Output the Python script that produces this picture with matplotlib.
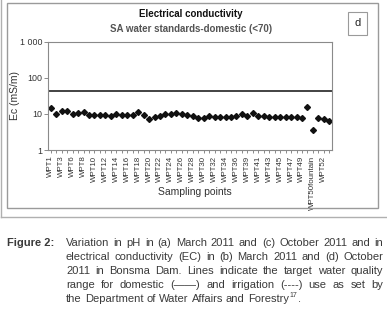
import matplotlib
matplotlib.use("Agg")
import matplotlib.pyplot as plt
from matplotlib.patches import Rectangle
from matplotlib.ticker import FixedLocator

plt.rcParams['font.family'] = ['Liberation Sans', 'DejaVu Sans']

categories = ["WPT1", "WPT2", "WPT3", "WPT5", "WPT6", "WPT7", "WPT8", "WPT9", "WPT10", "WPT11",
              "WPT12", "WPT13", "WPT14", "WPT15", "WPT16", "WPT17", "WPT18", "WPT19", "WPT20", "WPT21",
              "WPT22", "WPT23", "WPT24", "WPT25", "WPT26", "WPT27", "WPT28", "WPT29", "WPT30", "WPT31",
              "WPT32", "WPT33", "WPT34", "WPT35", "WPT36", "WPT37", "WPT39", "WPT40", "WPT41", "WPT42",
              "WPT43", "WPT44", "WPT45", "WPT46", "WPT47", "WPT48", "WPT49", "WPT50", "WPT50fountain", "WPT51",
              "WPT52", "WPT53"]
ec_values = [14.6, 10.0, 12.4, 12.4, 10.0, 10.6, 11.1, 9.2, 9.6, 9.2,
             9.2, 8.8, 10.0, 9.2, 9.6, 9.2, 11.1, 9.6, 7.0, 8.0,
             8.6, 10.2, 10.2, 10.8, 10.2, 9.4, 8.8, 7.8, 7.5, 9.0,
             8.2, 8.0, 8.1, 8.4, 9.0, 10.0, 9.0, 10.4, 9.0, 8.7,
             8.4, 8.1, 8.1, 8.1, 8.1, 8.1, 7.6, 15.9, 3.5, 7.6,
             7.3, 6.5]
domestic_limit = 43
y_ticks = [1, 10, 100, 1000]
y_tick_labels = ["1", "10", "100", "1 000"]

W, H = 387, 318
fig = plt.figure(figsize=(W / 100, H / 100), dpi=100)
fig.patch.set_facecolor("white")

def fx(px):
    return px / W

def fy(py):
    return 1 - py / H

# chart frame
fig.patches.append(Rectangle((fx(7), fy(208)), fx(378) - fx(7), fy(3) - fy(208),
                             transform=fig.transFigure, fill=False, edgecolor="#9a9a9a", lw=1.0))
fig.add_artist(plt.Line2D([fx(1), fx(1)], [fy(217), fy(0)], transform=fig.transFigure, color="#b0b0b0", lw=1.0))
fig.add_artist(plt.Line2D([fx(1), fx(387)], [fy(217), fy(217)], transform=fig.transFigure, color="#b0b0b0", lw=1.0))

# panel letter box
fig.patches.append(Rectangle((fx(348), fy(35)), fx(367) - fx(348), fy(12) - fy(35),
                             transform=fig.transFigure, fill=False, edgecolor="#9a9a9a", lw=0.8))
fig.text(fx(357.5), fy(23.5), "d", ha="center", va="center", fontsize=8, color="#222222")

fig.text(fx(191), fy(14), "Electrical conductivity", ha="center", va="center",
         fontsize=7.0, fontweight="bold", color="#111111")
fig.text(fx(191), fy(29), "SA water standards-domestic (<70)", ha="center", va="center",
         fontsize=7.0, fontweight="bold", color="#555555")

ax = fig.add_axes([fx(48), fy(150), fx(332) - fx(48), fy(41.7) - fy(150)])
x = list(range(len(categories)))
ax.plot(x, ec_values, linestyle="none", marker="D", markersize=3.0, color="#111111")
ax.axhline(domestic_limit, color="#222222", lw=1.2)
ax.set_yscale("log")
ax.set_ylim(1, 1000)
ax.set_xlim(-0.5, len(categories) - 0.5)
ax.yaxis.set_major_locator(FixedLocator(y_ticks))
ax.yaxis.set_minor_locator(FixedLocator([]))
ax.set_yticklabels(y_tick_labels)
ax.tick_params(axis="y", labelsize=6.4, colors="#777777", labelcolor="#333333", length=3, width=0.6, pad=1)

ax.set_xticks(x[::2])
ax.set_xticklabels(categories[::2], rotation=90, fontsize=5.7, color="#333333")
ax.set_xticks(x[1::2], minor=True)
ax.tick_params(axis="x", which="both", colors="#777777", labelcolor="#333333", length=2.5, width=0.6, pad=1.5)
for s in ax.spines.values():
    s.set_color("#8a8a8a")
    s.set_linewidth(0.8)
ax.set_ylabel("Ec (mS/m)", fontsize=7.5, color="#333333")
ax.yaxis.set_label_coords((20 - 48) / 284, 0.5)
fig.text(fx(195), fy(192), "Sampling points", ha="center", va="center", fontsize=7.5, color="#333333")

# caption
cap_color = "#3a3a3a"
cap_size = 8.0
fig.text(fx(7), fy(243), "Figure 2:", ha="left", va="center", fontsize=cap_size, fontweight="bold", color=cap_color)
caption_lines = [
    "Variation in pH in (a) March 2011 and (c) October 2011 and in",
    "electrical conductivity (EC) in (b) March 2011 and (d) October",
    "2011 in Bonsma Dam. Lines indicate the target water quality",
    "range for domestic (\u2014\u2014) and irrigation (----) use as set by",
    "the Department of Water Affairs and Forestry",
]
renderer = fig.canvas.get_renderer()
left_px, right_px = 66, 383
for i, line in enumerate(caption_lines):
    ypos = fy(243 + 14.1 * i)
    words = line.split(" ")
    texts = [fig.text(0, ypos, w, ha="left", va="center", fontsize=cap_size, color=cap_color) for w in words]
    widths = [t.get_window_extent(renderer).width for t in texts]
    if i < len(caption_lines) - 1:
        gap = (right_px - left_px - sum(widths)) / (len(words) - 1)
    else:
        sp = fig.text(0, 0, "a a", fontsize=cap_size)
        sp2 = fig.text(0, 0, "aa", fontsize=cap_size)
        gap = sp.get_window_extent(renderer).width - sp2.get_window_extent(renderer).width
        sp.remove()
        sp2.remove()
    cur = left_px
    for t, w in zip(texts, widths):
        t.set_x(fx(cur))
        cur += w + gap
    if i == len(caption_lines) - 1:
        end = cur - gap
        sup = fig.text(fx(end + 0.5), ypos + 3.5 / H, "17", ha="left", va="center", fontsize=5, color=cap_color)
        sw = sup.get_window_extent(renderer).width
        fig.text(fx(end + 1 + sw), ypos, ".", ha="left", va="center", fontsize=cap_size, color=cap_color)

fig.savefig("out.png", dpi=100, facecolor="white")
